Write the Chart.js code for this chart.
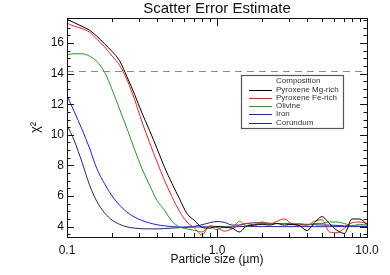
<!DOCTYPE html>
<html>
<head>
<meta charset="utf-8">
<script src="https://cdn.jsdelivr.net/npm/chart.js@4"></script>
<style>
  body { margin: 0; background: #fff; }
  #wrap { width: 390px; height: 275px; }
</style>
</head>
<body>
<div id="wrap"><canvas id="grafico"></canvas></div>
<script>
// particle sizes (µm), log spaced
var sizes = [0.1, 0.112, 0.126, 0.141, 0.158, 0.178, 0.2, 0.224, 0.251, 0.282,
             0.316, 0.355, 0.398, 0.447, 0.501, 0.562, 0.631, 0.708, 0.794, 0.891,
             1.0, 1.12, 1.26, 1.41, 1.58, 1.78, 2.0, 2.24, 2.51, 2.82,
             3.16, 3.55, 3.98, 4.47, 5.01, 5.62, 6.31, 7.08, 7.94, 8.91, 10.0];

var pyroxeneMg = [17.55, 17.33, 17.09, 16.85, 16.45, 15.95, 15.45, 14.85, 13.8, 12.65,
                  11.43, 10.29, 9.11, 7.88, 6.82, 5.83, 4.85, 4.4, 3.95, 3.9,
                  4.0, 3.95, 3.9, 3.65, 4.05, 4.1, 4.15, 4.1, 4.2, 4.1,
                  4.15, 4.05, 3.75, 4.25, 4.65, 4.2, 3.75, 3.55, 4.5, 4.5, 4.15];

var pyroxeneFe = [17.3, 17.1, 16.95, 16.72, 16.25, 15.75, 15.15, 14.55, 13.6, 12.32,
                  10.85, 9.5, 8.24, 7.02, 5.95, 5.0, 4.3, 3.9, 3.45, 4.05,
                  3.95, 3.7, 3.85, 4.1, 4.2, 4.1, 4.3, 4.15, 4.35, 4.5,
                  4.15, 4.1, 4.1, 4.35, 4.45, 3.65, 3.6, 3.9, 4.25, 4.3, 4.2];

var olivine = [15.25, 15.3, 15.3, 15.15, 14.8, 14.1, 12.95, 11.69, 10.42, 9.05,
               7.8, 6.71, 5.72, 5.07, 4.35, 3.98, 3.85, 3.75, 3.65, 4.0,
               3.8, 4.0, 3.95, 4.35, 4.0, 4.15, 4.2, 4.2, 4.2, 4.2,
               4.15, 4.2, 4.1, 4.2, 4.2, 4.3, 4.3, 4.2, 4.05, 4.15, 4.1];

var iron = [12.55, 11.5, 10.35, 9.15, 7.8, 6.8, 6.0, 5.4, 4.95, 4.62,
            4.4, 4.24, 4.12, 4.05, 4.0, 3.97, 3.96, 3.97, 3.98, 3.99,
            4.0, 4.0, 3.98, 4.0, 4.02, 4.0, 4.0, 4.01, 4.0, 4.0,
            4.0, 4.0, 4.0, 4.0, 3.99, 4.0, 4.0, 4.0, 4.0, 4.0, 4.0];

var corundum = [10.65, 9.6, 8.2, 6.75, 5.65, 4.9, 4.42, 4.15, 3.98, 3.9,
                3.86, 3.85, 3.85, 3.87, 3.9, 3.93, 3.97, 4.02, 4.12, 4.25,
                4.33, 4.28, 4.1, 4.1, 4.2, 4.25, 4.25, 4.22, 4.2, 4.2,
                4.18, 4.15, 4.15, 4.12, 4.1, 4.1, 4.08, 4.05, 4.05, 4.03, 4.02];

var seriesNames = ['Pyroxene Mg-rich', 'Pyroxene Fe-rich', 'Olivine', 'Iron', 'Corundum'];
var seriesColors = ['#000000', '#ff1a1a', '#1f9a1f', '#1a1aff', '#22227a'];
var seriesValues = [pyroxeneMg, pyroxeneFe, olivine, iron, corundum];

var yTicks = [4, 6, 8, 10, 12, 14, 16];
var xTicks = [0.1, 1.0, 10.0];
var threshold = 14.17;
var titulo = 'Scatter Error Estimate';

var fuente = '"Liberation Sans", Arial, sans-serif';

function puntos(vals) {
    return sizes.map(function (s, i) { return { x: s, y: vals[i] }; });
}

var datasets = seriesNames.map(function (name, k) {
    return {
        label: name,
        data: puntos(seriesValues[k]),
        borderColor: seriesColors[k],
        borderWidth: 1,
        pointRadius: 0,
        showLine: true,
        fill: false,
        cubicInterpolationMode: 'monotone'
    };
});

var axisColor = '#111';

// frame, inward ticks, dashed threshold, title and boxed legend
var marcoPlugin = {
    id: 'marco',
    afterDatasetsDraw: function (chart) {
        var ctx = chart.ctx;
        var a = chart.chartArea;
        var xs = chart.scales.x, ys = chart.scales.y;
        ctx.save();

        // title centred over the plot
        ctx.fillStyle = '#111';
        ctx.font = '15px ' + fuente;
        ctx.textAlign = 'center';
        ctx.textBaseline = 'middle';
        ctx.fillText(titulo, (a.left + a.right) / 2, 9);
        ctx.textAlign = 'left';

        // dashed threshold line
        var yd = ys.getPixelForValue(threshold);
        ctx.strokeStyle = '#8a8a8a';
        ctx.lineWidth = 1;
        ctx.setLineDash([7, 5]);
        ctx.beginPath();
        ctx.moveTo(a.left, Math.round(yd) + 0.5);
        ctx.lineTo(a.right, Math.round(yd) + 0.5);
        ctx.stroke();
        ctx.setLineDash([]);

        // frame
        ctx.strokeStyle = axisColor;
        ctx.strokeRect(Math.round(a.left) + 0.5, Math.round(a.top) + 0.5,
                       Math.round(a.right - a.left), Math.round(a.bottom - a.top));

        // y ticks (left + right)
        ctx.beginPath();
        for (var v = 3.5; v <= 17.5; v += 0.5) {
            var py = Math.round(ys.getPixelForValue(v)) + 0.5;
            var len = (v % 2 === 0) ? 7 : 3.5;
            ctx.moveTo(a.left, py); ctx.lineTo(a.left + len, py);
            ctx.moveTo(a.right, py); ctx.lineTo(a.right - len, py);
        }
        // x ticks (bottom + top)
        for (var d = 0.1; d < 10; d *= 10) {
            for (var m = 1; m <= 10; m++) {
                var val = d * m;
                if (val > 10.0001) continue;
                var px = Math.round(xs.getPixelForValue(val)) + 0.5;
                var l = (m === 1 || m === 10) ? 8 : 4;
                ctx.moveTo(px, a.bottom); ctx.lineTo(px, a.bottom - l);
                ctx.moveTo(px, a.top); ctx.lineTo(px, a.top + l);
            }
        }
        ctx.stroke();

        // legend box
        var lx = a.left + 174, ly = a.top + 57, lw = 102, lh = 53;
        ctx.fillStyle = '#fff';
        ctx.fillRect(lx, ly, lw, lh);
        ctx.strokeStyle = '#555';
        ctx.lineWidth = 1.2;
        ctx.strokeRect(lx + 0.5, ly + 0.5, lw, lh);
        ctx.font = '8px ' + fuente;
        ctx.textBaseline = 'middle';
        ctx.fillStyle = '#333';
        ctx.fillText('Composition', lx + 35, ly + 6);
        chart.data.datasets.forEach(function (ds, k) {
            var ry = ly + 14.5 + k * 8.25;
            ctx.strokeStyle = ds.borderColor;
            ctx.lineWidth = 1;
            ctx.beginPath();
            ctx.moveTo(lx + 8, Math.round(ry) + 0.5);
            ctx.lineTo(lx + 31, Math.round(ry) + 0.5);
            ctx.stroke();
            ctx.fillStyle = '#333';
            ctx.fillText(ds.label, lx + 35, ry);
        });
        ctx.restore();
    }
};

var ctx = document.getElementById('grafico').getContext('2d');
var chart = new Chart(ctx, {
    type: 'scatter',
    data: { datasets: datasets },
    plugins: [marcoPlugin],
    options: {
        responsive: true,
        maintainAspectRatio: false,
        animation: false,
        layout: { padding: { top: 18, right: 23, bottom: 0, left: 0 } },
        scales: {
            x: {
                type: 'logarithmic',
                min: 0.1,
                max: 10,
                afterBuildTicks: function (scale) {
                    scale.ticks = xTicks.map(function (v) { return { value: v }; });
                },
                afterFit: function (scale) { scale.height = 38; },
                ticks: {
                    color: '#111',
                    padding: 6,
                    autoSkip: false,
                    maxRotation: 0,
                    font: { family: fuente, size: 12 },
                    callback: function (v) { return Number(v).toFixed(1); }
                },
                grid: { display: false, drawTicks: false },
                border: { display: false },
                title: {
                    display: true,
                    text: 'Particle size (µm)',
                    color: '#111',
                    padding: { top: 0, bottom: 8 },
                    font: { family: fuente, size: 12 }
                }
            },
            y: {
                min: 3.32,
                max: 17.64,
                afterBuildTicks: function (scale) {
                    scale.ticks = yTicks.map(function (v) { return { value: v }; });
                },
                afterFit: function (scale) { scale.width = 67; },
                ticks: {
                    color: '#111',
                    padding: 3,
                    font: { family: fuente, size: 12 }
                },
                grid: { display: false, drawTicks: false },
                border: { display: false },
                title: {
                    display: true,
                    text: 'χ²',
                    color: '#111',
                    padding: { top: 28, bottom: 0 },
                    font: { family: fuente, size: 13 }
                }
            }
        },
        plugins: {
            legend: { display: false },
            tooltip: { enabled: false },
            title: { display: false }
        }
    }
});
</script>
</body>
</html>
